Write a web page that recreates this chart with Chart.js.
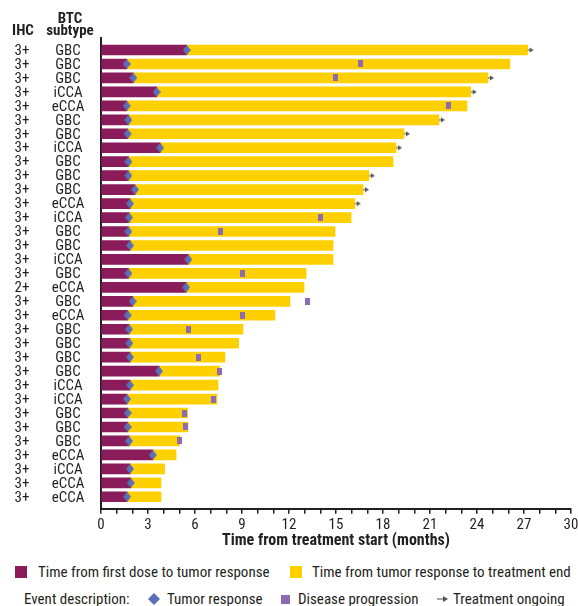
<!DOCTYPE html>
<html>
<head>
<meta charset="utf-8">
<script src="https://cdn.jsdelivr.net/npm/chart.js@4/dist/chart.umd.min.js"></script>
<style>
  html, body { margin: 0; padding: 0; background: #fff; }
  #wrap { position: relative; width: 578px; height: 606px; font-family: "Roboto Condensed", Roboto, sans-serif; color: #231f20; }
  #c { position: absolute; left: 0; top: 0; }
  .lg { position: absolute; font-size: 15px; line-height: 16px; white-space: nowrap; }
  .sw { position: absolute; }
</style>
</head>
<body>
<div id="wrap">
  <canvas id="c" width="578" height="555"></canvas>
  <div class="sw" style="left:15px;top:566px;width:12px;height:12px;background:#8a1c5c"></div>
  <div class="lg" style="left:38px;top:564px">Time from first dose to tumor response</div>
  <div class="sw" style="left:290px;top:566px;width:12px;height:12px;background:#ffd000"></div>
  <div class="lg" style="left:312px;top:564px">Time from tumor response to treatment end</div>
  <div class="lg" style="left:24px;top:591px">Event description:</div>
  <svg class="sw" style="left:148px;top:593px" width="12" height="12"><polygon points="6,0 12,6 6,12 0,6" fill="#5b6fb6"/></svg>
  <div class="lg" style="left:167px;top:591px">Tumor response</div>
  <div class="sw" style="left:281px;top:595px;width:9px;height:9px;background:#8c6bb0"></div>
  <div class="lg" style="left:298px;top:591px">Disease progression</div>
  <svg class="sw" style="left:437px;top:595px" width="12" height="8"><line x1="0" y1="4" x2="7" y2="4" stroke="#555" stroke-width="1"/><polygon points="6,1 11,4 6,7" fill="#555"/></svg>
  <div class="lg" style="left:453px;top:591px">Treatment ongoing</div>
</div>
<script>
const ihc = ['3+','3+','3+','3+','3+','3+','3+','3+','3+','3+','3+','3+','3+','3+','3+','3+','3+','2+','3+','3+','3+','3+','3+','3+','3+','3+','3+','3+','3+','3+','3+','3+','3+'];
const subtype = ['GBC','GBC','GBC','iCCA','eCCA','GBC','GBC','iCCA','GBC','GBC','GBC','eCCA','iCCA','GBC','GBC','iCCA','GBC','eCCA','GBC','eCCA','GBC','GBC','GBC','GBC','iCCA','iCCA','GBC','GBC','GBC','eCCA','iCCA','eCCA','eCCA'];
const responseTime = [5.47,1.64,2.06,3.55,1.64,1.75,1.70,3.77,1.75,1.75,2.17,1.85,1.79,1.75,1.85,5.57,1.75,5.43,2.02,1.70,1.79,1.81,1.85,3.70,1.85,1.66,1.70,1.70,1.79,3.30,1.85,1.90,1.66];
const endTime = [27.23,26.10,24.70,23.60,23.36,21.57,19.34,18.83,18.64,17.10,16.72,16.20,15.96,14.94,14.81,14.81,13.09,12.96,12.06,11.10,9.06,8.79,7.91,7.57,7.47,7.40,5.53,5.55,5.02,4.79,4.06,3.83,3.83];
const progressionTime = [null,16.55,14.96,null,22.20,null,null,null,null,null,null,null,14.00,7.62,null,null,9.02,null,13.17,9.02,5.57,null,6.21,7.55,null,7.17,5.32,5.38,5.00,null,null,null,null];
const ongoing = [true,false,true,true,false,true,true,true,false,true,true,true,false,false,false,false,false,false,false,false,false,false,false,false,false,false,false,false,false,false,false,false,false];
const xTicksLabelled = [0,3,6,9,12,15,18,21,24,27,30];

const PURPLE = '#8a1c5c', YELLOW = '#ffd000', BLUE = '#5b6fb6', LILAC = '#8c6bb0', TXT = '#231f20';
const FONT = '"Roboto Condensed", Roboto, sans-serif';

function mk(w, h, draw) { const c = document.createElement('canvas'); c.width = w; c.height = h; draw(c.getContext('2d')); return c; }
const diamondImg = mk(8, 10, g => { g.fillStyle = BLUE; g.beginPath(); g.moveTo(4,0); g.lineTo(8,5); g.lineTo(4,10); g.lineTo(0,5); g.closePath(); g.fill(); });
const progImg = mk(5, 7, g => { g.fillStyle = LILAC; g.fillRect(0,0,5,7); });
const arrowImg = mk(14, 6, g => { g.fillStyle = '#555'; g.fillRect(7,2.5,3,1); g.beginPath(); g.moveTo(9,0.5); g.lineTo(13,3); g.lineTo(9,5.5); g.closePath(); g.fill(); });

const idx = subtype.map((_, i) => i);
const purpleData = idx.map(i => ({ y: i, x: [0, responseTime[i]] }));
const yellowData = idx.map(i => ({ y: i, x: [responseTime[i], endTime[i]] }));
const respPts = idx.map(i => ({ x: responseTime[i], y: i }));
const progPts = idx.filter(i => progressionTime[i] !== null).map(i => ({ x: progressionTime[i], y: i }));
const ongoingPts = idx.filter(i => ongoing[i]).map(i => ({ x: endTime[i], y: i }));

const rowLabels = {
  id: 'rowLabels',
  afterDraw(chart) {
    const g = chart.ctx, ys = chart.scales.y;
    g.save();
    g.fillStyle = TXT;
    g.textAlign = 'center';
    g.textBaseline = 'middle';
    g.font = '15px ' + FONT;
    idx.forEach(i => {
      const py = ys.getPixelForValue(i);
      g.fillText(ihc[i], 22, py + 1);
      g.fillText(subtype[i], 68, py + 1);
    });
    g.font = 'bold 15px ' + FONT;
    g.textBaseline = 'alphabetic';
    g.fillText('IHC', 23, 35);
    g.fillText('BTC', 70, 23);
    g.fillText('subtype', 70, 35);
    g.restore();
  }
};

new Chart(document.getElementById('c'), {
  data: {
    datasets: [
      { type: 'scatter', data: ongoingPts, pointStyle: arrowImg, pointRadius: 5, order: 0 },
      { type: 'scatter', data: respPts, pointStyle: diamondImg, pointRadius: 5, order: 1 },
      { type: 'scatter', data: progPts, pointStyle: progImg, pointRadius: 5, order: 2 },
      { type: 'bar', indexAxis: 'y', data: purpleData, backgroundColor: PURPLE, borderWidth: 0, barThickness: 10, grouped: false, order: 3 },
      { type: 'bar', indexAxis: 'y', data: yellowData, backgroundColor: YELLOW, borderWidth: 0, barThickness: 10, grouped: false, order: 4 }
    ]
  },
  options: {
    responsive: false,
    animation: false,
    events: [],
    layout: { padding: { left: 101, right: 7, top: 38, bottom: 4 } },
    plugins: { legend: { display: false }, tooltip: { enabled: false } },
    scales: {
      x: {
        type: 'linear', min: 0, max: 30, offset: false,
        afterFit: s => { s.paddingRight = 0; s.paddingLeft = 0; },
        border: { display: true, color: '#231f20', width: 2 },
        grid: { drawOnChartArea: false, drawTicks: true, tickLength: 5, color: '#231f20', lineWidth: 1.5 },
        ticks: {
          stepSize: 1, autoSkip: false, maxRotation: 0, padding: 2,
          color: TXT, font: { family: FONT, size: 15 },
          callback: v => xTicksLabelled.includes(v) ? String(v) : ''
        },
        title: { display: true, text: 'Time from treatment start (months)', color: TXT, font: { family: FONT, size: 16, weight: 'bold' }, padding: { top: -4, bottom: 0 } }
      },
      y: {
        type: 'linear', reverse: true, min: -0.86, max: 32.86, offset: false,
        border: { display: true, color: '#231f20', width: 2 },
        grid: { display: false, drawTicks: false },
        ticks: { display: false }
      }
    }
  },
  plugins: [rowLabels]
});
</script>
</body>
</html>
